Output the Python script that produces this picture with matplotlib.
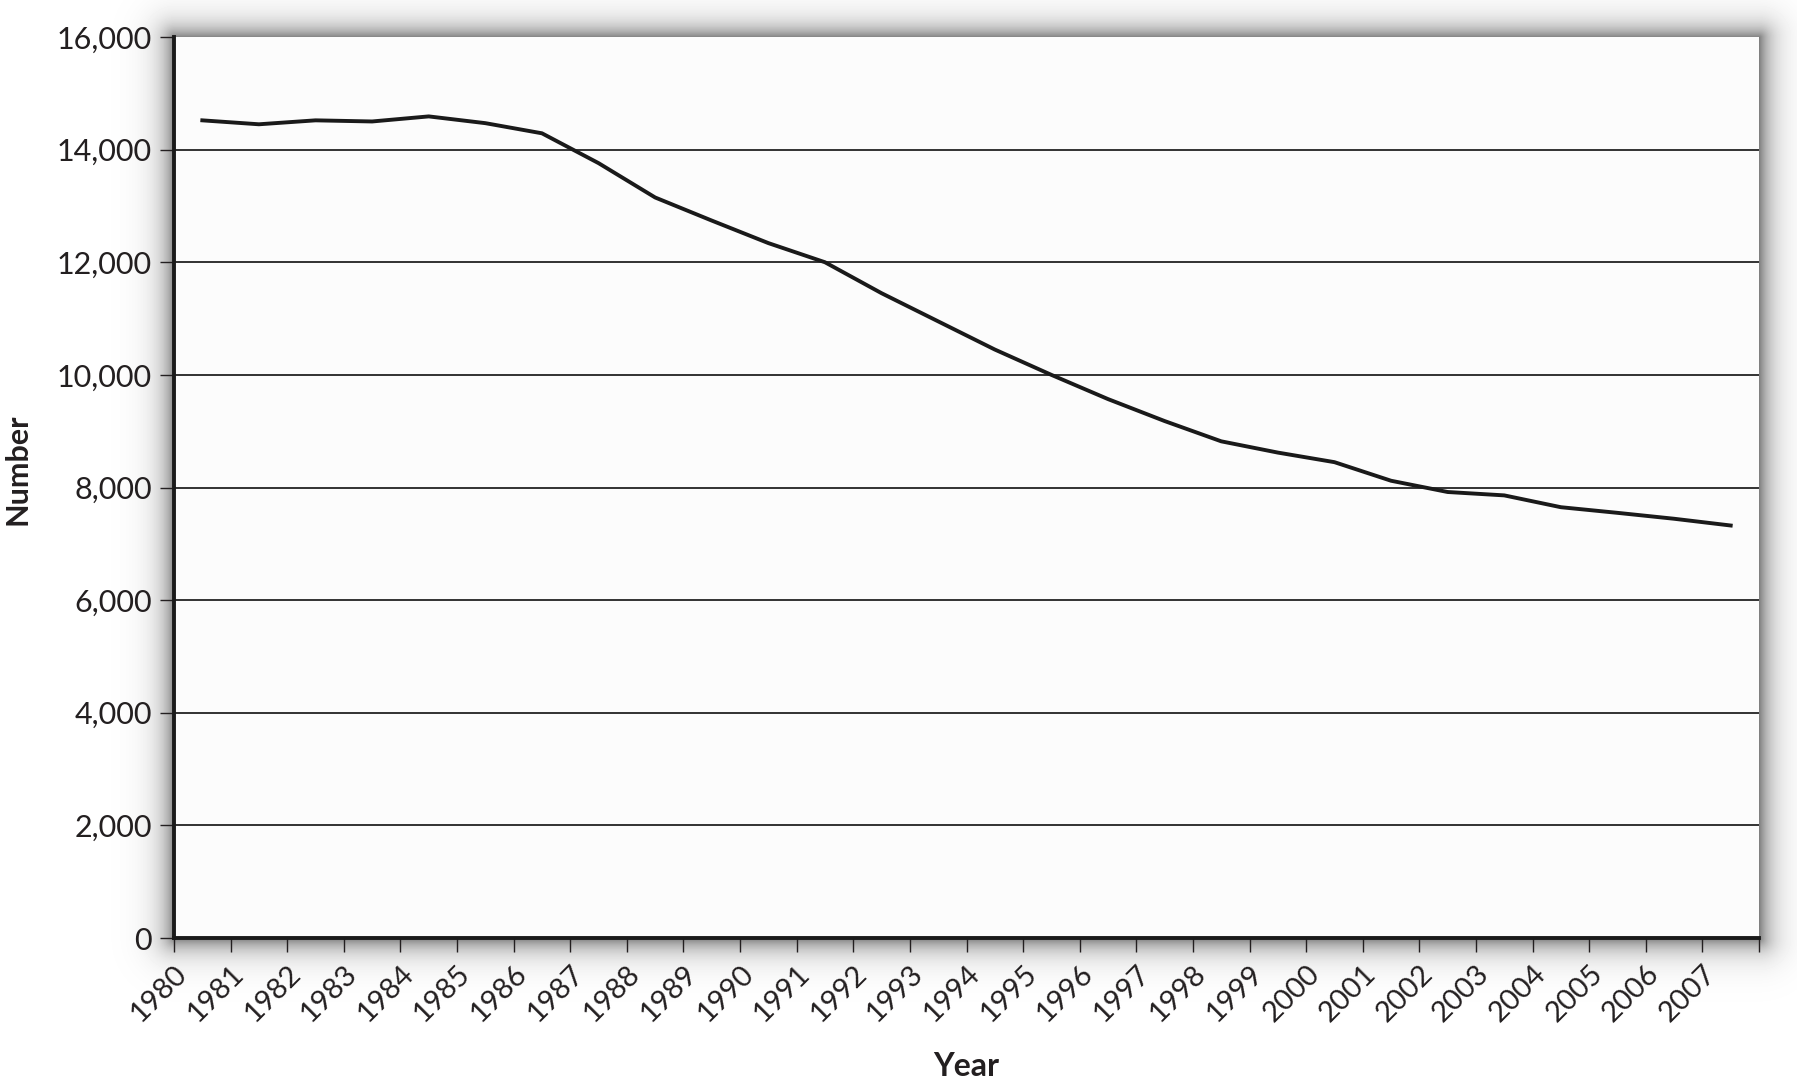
import matplotlib

matplotlib.use("Agg")

import matplotlib.pyplot as plt
import numpy as np

years = list(range(1980, 2008))
number = [
    14520, 14450, 14520, 14500, 14590, 14470, 14290, 13760, 13150, 12740,
    12340, 12000, 11450, 10950, 10450, 10000, 9570, 9180, 8820, 8620,
    8450, 8120, 7920, 7860, 7650, 7550, 7445, 7325,
]
tick_years = list(range(1980, 2009))
tick_labels = [str(y) for y in years] + [""]
y_ticks = list(range(0, 16001, 2000))

plt.rcParams["font.family"] = ["Lato", "DejaVu Sans"]

W, H = 1797, 1087
fig = plt.figure(figsize=(W / 100, H / 100), dpi=100)
fig.patch.set_facecolor("#fdfdfd")

# plot-area box in pixels (from top-left)
px0, px1, py0, py1 = 174, 1759, 37, 938

# soft drop shadow around the plot area
bg = fig.add_axes([0, 0, 1, 1], zorder=0)
bg.axis("off")
yy, xx = np.mgrid[0:H, 0:W]
dx = np.maximum(np.maximum(px0 - xx, xx - px1), 0)
dy = np.maximum(np.maximum(py0 - yy, yy - py1), 0)
d = np.hypot(dx, dy)
shade = 1 - 0.5 * np.exp(-d / 13.0)
bg.imshow(shade, cmap="gray", vmin=0, vmax=1, extent=(0, W, H, 0),
          aspect="auto", interpolation="bilinear")
bg.set_xlim(0, W)
bg.set_ylim(H, 0)

ax = fig.add_axes([px0 / W, 1 - py1 / H, (px1 - px0) / W, (py1 - py0) / H], zorder=1)
ax.set_facecolor("#fcfcfc")

x = [yr + 0.5 for yr in years]
ax.plot(x, number, color="#1a1a1a", lw=2.8, zorder=3)

ax.set_xlim(1980, 2008)
ax.set_ylim(0, 16000)
ax.set_xticks(tick_years)
ax.set_xticklabels(tick_labels, rotation=45, ha="right", va="top",
                   rotation_mode="anchor", fontsize=21, color="#231f20")
ax.set_yticks(y_ticks)
ax.set_yticklabels([f"{v:,}" for v in y_ticks], fontsize=22, color="#231f20")

ax.tick_params(axis="both", direction="out", length=10, width=1.0, color="#231f20")
ax.tick_params(axis="y", pad=6)
ax.tick_params(axis="x", pad=6)

ax.grid(axis="y", color="#222222", lw=1.3)
gl = ax.get_ygridlines()
gl[0].set_visible(False)
gl[-1].set_visible(False)
ax.set_axisbelow(True)

for side in ("top", "right"):
    ax.spines[side].set_visible(False)
for side in ("left", "bottom"):
    ax.spines[side].set_linewidth(2.8)
    ax.spines[side].set_color("#1a1a1a")

ax.set_ylabel("Number", fontsize=22, fontweight="bold", color="#231f20")
ax.yaxis.set_label_coords(-0.090, 0.52)
ax.set_xlabel("Year", fontsize=23, fontweight="bold", color="#231f20")
ax.xaxis.set_label_coords(0.5, -0.127)

fig.savefig("out.png", dpi=100, facecolor=fig.get_facecolor())
